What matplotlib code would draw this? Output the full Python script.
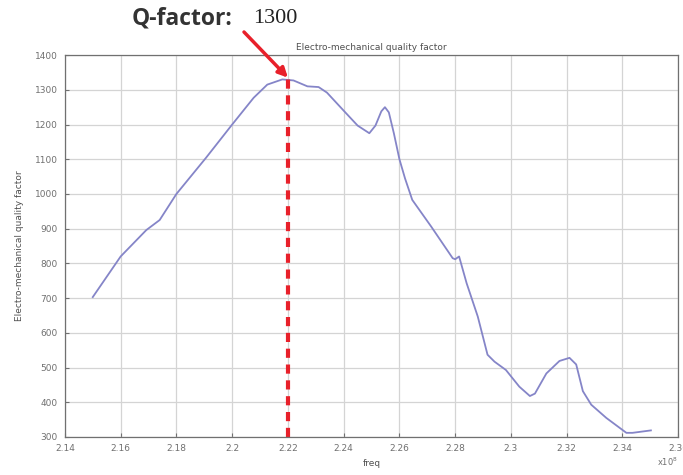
import matplotlib
matplotlib.use('Agg')
import matplotlib.pyplot as plt

# frequency (x1e8) and Q-factor
freq = [2.15, 2.16, 2.1692, 2.174, 2.18, 2.1906, 2.2, 2.2077, 2.2126, 2.218,
        2.222, 2.227, 2.231, 2.234, 2.24, 2.245, 2.2492, 2.2514, 2.2535, 2.2548,
        2.2562, 2.258, 2.26, 2.262, 2.2646, 2.2714, 2.2791, 2.28, 2.2814, 2.2841,
        2.2881, 2.2916, 2.2941, 2.2982, 2.303, 2.3068, 2.3086, 2.3127, 2.3174, 2.321,
        2.3234, 2.3258, 2.3288, 2.3342, 2.3414, 2.3436, 2.3502]
qfac = [703, 820, 896, 925, 1000, 1104, 1200, 1277, 1315, 1330,
        1327, 1310, 1308, 1292, 1240, 1197, 1175, 1197, 1238, 1250,
        1235, 1175, 1100, 1045, 983, 906, 815, 812, 820, 743,
        647, 537, 517, 493, 445, 418, 425, 483, 519, 528,
        509, 432, 393, 355, 312, 312, 319]

peak_freq = 2.22
peak_q = 1335
xticks = [2.14, 2.16, 2.18, 2.2, 2.22, 2.24, 2.26, 2.28, 2.3, 2.32, 2.34, 2.36]
xticklabels = ['2.14', '2.16', '2.18', '2.2', '2.22', '2.24', '2.26', '2.28',
               '2.3', '2.32', '2.34', '2.36']
yticks = list(range(300, 1401, 100))

fig = plt.figure(figsize=(6.83, 4.75), dpi=100)
ax = fig.add_axes([0.095, 0.08, 0.898, 0.804])

ax.plot(freq, qfac, color='#8585c8', lw=1.3)
ax.axvline(peak_freq, ymin=0, ymax=(peak_q - 300) / 1100.0, color='#e8202a',
           lw=3, ls=(0, (2.2, 1.6)))

ax.set_xlim(2.14, 2.36)
ax.set_ylim(300, 1400)
ax.set_xticks(xticks)
ax.set_xticklabels(xticklabels)
ax.set_yticks(yticks)
ax.grid(True, color='#d4d4d4', lw=0.9)
ax.tick_params(direction='in', length=3, labelsize=6.5, colors='#707070',
               labelcolor='#707070', pad=5)
for s in ax.spines.values():
    s.set_color('#707070')
    s.set_linewidth(0.9)

ax.set_title('Electro-mechanical quality factor', fontsize=6.5, color='#505050', pad=4)
ax.set_xlabel('freq', fontsize=6.5, color='#505050', labelpad=4)
ax.set_ylabel('Electro-mechanical quality factor', fontsize=6.5, color='#505050', labelpad=8)
fig.text(0.978, 0.018, r'x10$^8$', fontsize=6, color='#707070', ha='center')

# annotation for the peak
fig.text(0.193, 0.962, 'Q-factor:', fontsize=16.5, fontweight='bold', color='#333333',
         family='Open Sans', va='center')
fig.text(0.370, 0.962, '1300', fontsize=16, color='#222222',
         family='Liberation Serif', va='center')
ax.annotate('', xy=(peak_freq, peak_q), xycoords='data',
            xytext=(244, 475 - 32), textcoords='figure pixels',
            arrowprops=dict(arrowstyle='-|>', color='#e8202a', lw=2.5,
                            mutation_scale=14, shrinkA=0, shrinkB=0),
            annotation_clip=False)

fig.savefig('out.png', dpi=100)
